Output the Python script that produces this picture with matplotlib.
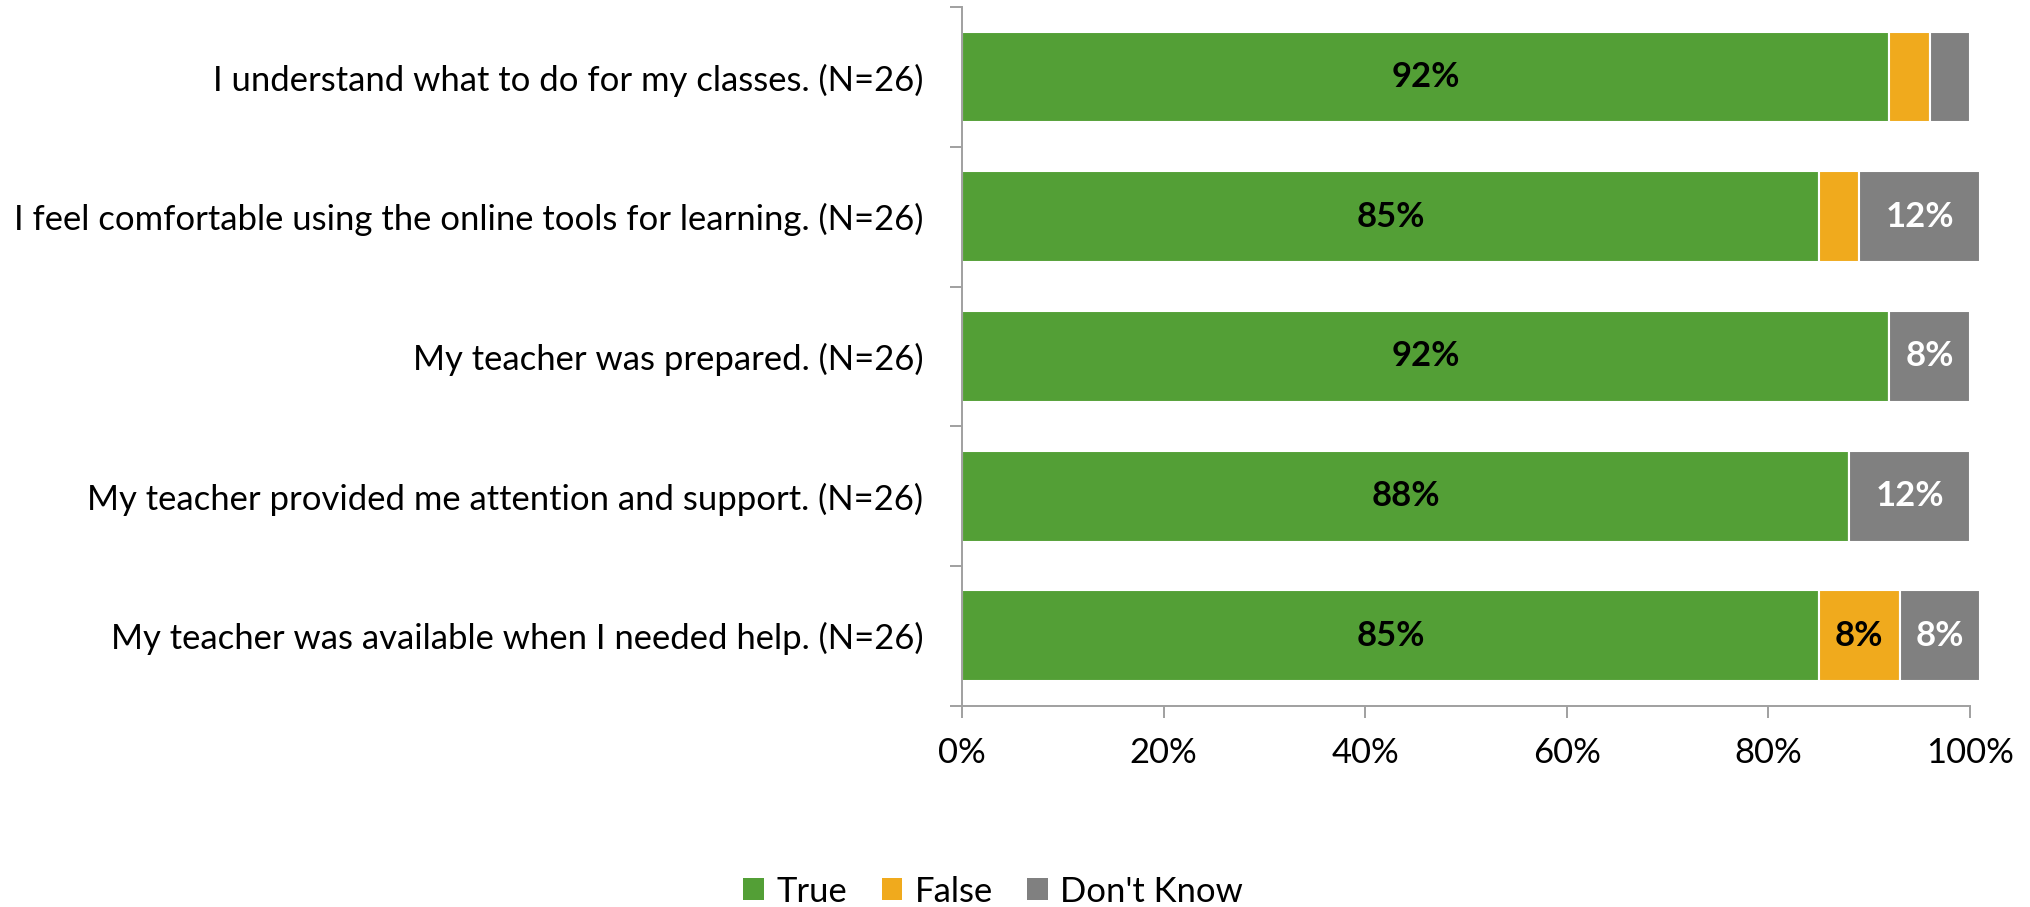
import matplotlib.pyplot as plt
from matplotlib.patches import Patch
from matplotlib.ticker import FuncFormatter

plt.rcParams['font.family'] = ['Lato', 'DejaVu Sans']

# survey items, bottom to top
questions = [
    "My teacher was available when I needed help. (N=26)",
    "My teacher provided me attention and support. (N=26)",
    "My teacher was prepared. (N=26)",
    "I feel comfortable using the online tools for learning. (N=26)",
    "I understand what to do for my classes. (N=26)",
]
true_pct = [85, 88, 92, 85, 92]
false_pct = [8, 0, 0, 4, 4]
dontknow_pct = [8, 12, 8, 12, 4]

series = ["True", "False", "Don't Know"]
colors = ["#539F36", "#F0AA1D", "#808080"]
label_colors = ["black", "black", "white"]
fs = 24.9

fig = plt.figure(figsize=(20.31, 9.07), dpi=100)
ax = fig.add_axes([0.4737, 0.222, 0.4963, 0.770])

y = list(range(len(questions)))
left = [0] * len(questions)
for name, vals, col, tcol in zip(series, [true_pct, false_pct, dontknow_pct], colors, label_colors):
    bars = ax.barh(y, vals, left=left, height=0.65, color=col, edgecolor="white",
                   linewidth=1.5, clip_on=False)
    for b, v, l in zip(bars, vals, left):
        if v >= 8:
            ax.text(l + v / 2, b.get_y() + b.get_height() / 2, f"{v}%", ha="center",
                    va="center", color=tcol, fontsize=fs, fontweight="bold")
    left = [a + b for a, b in zip(left, vals)]

ax.set_xlim(0, 100)
ax.set_ylim(-0.5, len(questions) - 0.5)
ax.set_xticks(range(0, 101, 20))
ax.xaxis.set_major_formatter(FuncFormatter(lambda v, p: f"{int(v)}%"))
# category boundaries get the tick marks, labels sit between them
ax.set_yticks([i - 0.5 for i in range(len(questions) + 1)])
ax.set_yticklabels([])
ax.set_yticks(y, minor=True)
ax.set_yticklabels(questions, minor=True)
ax.tick_params(axis="y", which="minor", length=0, pad=28, labelsize=fs)
ax.tick_params(axis="y", which="major", length=8.5, width=1.4, color="#A0A0A0")
ax.tick_params(axis="x", length=8.5, width=1.4, color="#A0A0A0", pad=14, labelsize=fs)

for s in ["top", "right"]:
    ax.spines[s].set_visible(False)
for s in ["left", "bottom"]:
    ax.spines[s].set_color("#A0A0A0")
    ax.spines[s].set_linewidth(1.4)

handles = [Patch(facecolor=c, edgecolor="none") for c in colors]
fig.legend(handles, series, loc="center", bbox_to_anchor=(0.489, 0.017), ncol=3,
           frameon=False, fontsize=fs, handlelength=0.6, handleheight=0.6,
           handletextpad=0.35, columnspacing=1.0)

fig.savefig("out.png", dpi=100)
